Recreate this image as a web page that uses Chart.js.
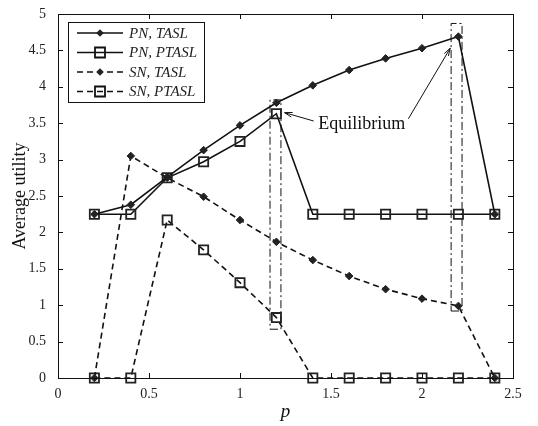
<!DOCTYPE html>
<html>
<head>
<meta charset="utf-8">
<script src="https://cdn.jsdelivr.net/npm/chart.js@4/dist/chart.umd.min.js"></script>
<style>
html, body { margin: 0; padding: 0; background: #fff; }
#wrap { width: 538px; height: 426px; }
</style>
</head>
<body>
<div id="wrap"><canvas id="utility-chart"></canvas></div>
<script>
// values
const pValues = [0.2, 0.4, 0.6, 0.8, 1.0, 1.2, 1.4, 1.6, 1.8, 2.0, 2.2, 2.4]
const pnTasl  = [2.25, 2.38, 2.76, 3.13, 3.47, 3.78, 4.02, 4.23, 4.39, 4.53, 4.69, 2.25]
const pnPtasl = [2.25, 2.25, 2.75, 2.97, 3.25, 3.63, 2.25, 2.25, 2.25, 2.25, 2.25, 2.25]
const snTasl  = [0, 3.05, 2.75, 2.49, 2.17, 1.87, 1.62, 1.40, 1.22, 1.09, 0.99, 0]
const snPtasl = [0, 0, 2.17, 1.76, 1.31, 0.83, 0, 0, 0, 0, 0, 0]

const xTicks = [0, 0.5, 1, 1.5, 2, 2.5]
const yTicks = [0, 0.5, 1, 1.5, 2, 2.5, 3, 3.5, 4, 4.5, 5]

// dash-dot boxes marking the equilibrium points
const eqBoxLeft   = [1.165, 2.16]
const eqBoxRight  = [1.225, 2.22]
const eqBoxBottom = [0.67, 0.92]
const eqBoxTop    = [3.82, 4.87]

// annotation: label position and arrows (start -> tip), data units
const eqLabel = 'Equilibrium'
const eqLabelX = 1.43
const eqLabelY = 3.49
const arrowFromX = [1.405, 1.925]
const arrowFromY = [3.53, 3.56]
const arrowToX   = [1.245, 2.155]
const arrowToY   = [3.645, 4.53]

const serif = 'Liberation Serif'

function toPoints(xs, ys){
    return xs.map((x, i) => ({x: x, y: ys[i]}))
}

function boxPoints(i){
    return [
        {x: eqBoxLeft[i], y: eqBoxBottom[i]},
        {x: eqBoxRight[i], y: eqBoxBottom[i]},
        {x: eqBoxRight[i], y: eqBoxTop[i]},
        {x: eqBoxLeft[i], y: eqBoxTop[i]},
        {x: eqBoxLeft[i], y: eqBoxBottom[i]}
    ]
}

function seriesDataset(label, values, dashed, square){
    return {
        label: label,
        data: toPoints(pValues, values),
        showLine: true,
        borderColor: '#111',
        borderWidth: 1.6,
        borderDash: dashed ? [6, 4] : [],
        pointStyle: square ? 'rect' : 'rectRot',
        pointRadius: square ? 6.5 : 3.8,
        pointBorderWidth: square ? 1.8 : 1,
        pointBorderColor: '#222',
        pointBackgroundColor: square ? 'rgba(0,0,0,0)' : '#222',
        tension: 0,
        clip: false
    }
}

function boxDataset(i){
    return {
        label: 'box' + i,
        data: boxPoints(i),
        showLine: true,
        borderColor: '#111',
        borderWidth: 1,
        borderDash: [8, 3, 2, 3],
        pointRadius: 0,
        tension: 0,
        clip: false
    }
}

// frame + inward ticks on all four sides
const framePlugin = {
    id: 'frame',
    afterDraw(chart){
        const ctx = chart.ctx
        const a = chart.chartArea
        const xs = chart.scales.x
        const ys = chart.scales.y
        const len = 5
        ctx.save()
        ctx.strokeStyle = '#111'
        ctx.lineWidth = 1
        ctx.strokeRect(a.left + 0.5, a.top + 0.5, a.right - a.left, a.bottom - a.top)
        ctx.beginPath()
        xTicks.forEach(v => {
            const px = Math.round(xs.getPixelForValue(v)) + 0.5
            ctx.moveTo(px, a.bottom); ctx.lineTo(px, a.bottom - len)
            ctx.moveTo(px, a.top); ctx.lineTo(px, a.top + len)
        })
        yTicks.forEach(v => {
            const py = Math.round(ys.getPixelForValue(v)) + 0.5
            ctx.moveTo(a.left, py); ctx.lineTo(a.left + len, py)
            ctx.moveTo(a.right, py); ctx.lineTo(a.right - len, py)
        })
        ctx.stroke()
        ctx.restore()
    }
}

function drawArrow(ctx, x0, y0, x1, y1){
    const ang = Math.atan2(y1 - y0, x1 - x0)
    const head = 8
    ctx.beginPath()
    ctx.moveTo(x0, y0)
    ctx.lineTo(x1, y1)
    ctx.stroke()
    ctx.beginPath()
    ctx.moveTo(x1, y1)
    ctx.lineTo(x1 - head * Math.cos(ang - 0.3), y1 - head * Math.sin(ang - 0.3))
    ctx.moveTo(x1, y1)
    ctx.lineTo(x1 - head * Math.cos(ang + 0.3), y1 - head * Math.sin(ang + 0.3))
    ctx.stroke()
}

const annotationPlugin = {
    id: 'equilibrium',
    afterDatasetsDraw(chart){
        const ctx = chart.ctx
        const xs = chart.scales.x
        const ys = chart.scales.y
        ctx.save()
        ctx.fillStyle = '#111'
        ctx.font = '18px "' + serif + '"'
        ctx.textAlign = 'left'
        ctx.textBaseline = 'middle'
        ctx.fillText(eqLabel, xs.getPixelForValue(eqLabelX), ys.getPixelForValue(eqLabelY))
        ctx.strokeStyle = '#111'
        ctx.lineWidth = 1
        arrowFromX.forEach((x, i) => {
            drawArrow(ctx,
                xs.getPixelForValue(x), ys.getPixelForValue(arrowFromY[i]),
                xs.getPixelForValue(arrowToX[i]), ys.getPixelForValue(arrowToY[i]))
        })
        ctx.restore()
    }
}

// legend box in the top-left corner of the plot
const legendPlugin = {
    id: 'boxLegend',
    afterDraw(chart){
        const ctx = chart.ctx
        const a = chart.chartArea
        const left = a.left + 10
        const top = a.top + 8
        const w = 136
        const h = 80
        ctx.save()
        ctx.fillStyle = '#fff'
        ctx.fillRect(left, top, w, h)
        ctx.strokeStyle = '#111'
        ctx.lineWidth = 1
        ctx.strokeRect(left + 0.5, top + 0.5, w, h)
        chart.data.datasets.slice(0, 4).forEach((ds, i) => {
            const y = top + 11 + i * 19.5
            ctx.strokeStyle = '#111'
            ctx.lineWidth = 1.6
            ctx.setLineDash(ds.borderDash)
            ctx.beginPath()
            ctx.moveTo(left + 9, y)
            ctx.lineTo(left + 55, y)
            ctx.stroke()
            ctx.setLineDash([])
            const cx = left + 32
            ctx.beginPath()
            if (ds.pointStyle === 'rect') {
                ctx.lineWidth = 1.8
                ctx.rect(cx - 5, y - 5, 10, 10)
                ctx.stroke()
            } else {
                ctx.fillStyle = '#222'
                ctx.moveTo(cx, y - 3.8); ctx.lineTo(cx + 3.8, y)
                ctx.lineTo(cx, y + 3.8); ctx.lineTo(cx - 3.8, y)
                ctx.closePath()
                ctx.fill()
            }
            ctx.fillStyle = '#222'
            ctx.font = 'italic 15px "' + serif + '"'
            ctx.textAlign = 'left'
            ctx.textBaseline = 'middle'
            ctx.fillText(ds.label, left + 61, y + 1)
        })
        ctx.restore()
    }
}

const ctx = document.getElementById('utility-chart')
const myChart = new Chart(ctx, {
    type: 'scatter',
    data: {
        datasets: [
            seriesDataset('PN, TASL', pnTasl, false, false),
            seriesDataset('PN, PTASL', pnPtasl, false, true),
            seriesDataset('SN, TASL', snTasl, true, false),
            seriesDataset('SN, PTASL', snPtasl, true, true),
            boxDataset(0),
            boxDataset(1)
        ]
    },
    options: {
        responsive: true,
        maintainAspectRatio: false,
        animation: false,
        layout: {
            padding: {top: 14, right: 25, left: 0, bottom: 0}
        },
        scales: {
            x: {
                type: 'linear',
                min: 0,
                max: 2.5,
                ticks: {
                    stepSize: 0.5,
                    color: '#222',
                    padding: 0,
                    font: {family: serif, size: 14},
                    callback: v => String(v)
                },
                grid: {display: false},
                border: {display: false},
                title: {
                    display: true,
                    text: 'p',
                    color: '#111',
                    font: {family: serif, size: 19, style: 'italic'},
                    padding: {top: 0, bottom: 3}
                },
                afterFit(scale){ scale.height = 48 }
            },
            y: {
                min: 0,
                max: 5,
                ticks: {
                    stepSize: 0.5,
                    color: '#222',
                    padding: 4,
                    font: {family: serif, size: 14},
                    callback: v => String(v)
                },
                grid: {display: false},
                border: {display: false},
                title: {
                    display: true,
                    text: 'Average utility',
                    color: '#111',
                    font: {family: serif, size: 18},
                    padding: {top: 9, bottom: 0}
                },
                afterFit(scale){ scale.width = 58 }
            }
        },
        plugins: {
            legend: {display: false},
            tooltip: {enabled: false}
        }
    },
    plugins: [framePlugin, annotationPlugin, legendPlugin]
})
</script>
</body>
</html>
